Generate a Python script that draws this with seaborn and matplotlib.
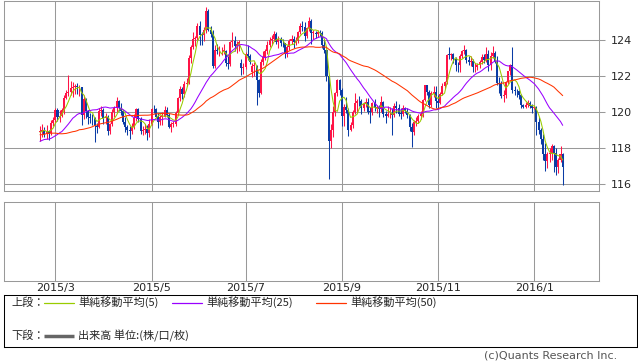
import numpy as np
import pandas as pd
import matplotlib
matplotlib.use('Agg')
import matplotlib.pyplot as plt
import seaborn as sns

# closes before the visible window (only used to start the moving averages)
warmup_closes = [118.8, 117.7, 116.9, 118.5, 118.7, 119.5, 120.0, 120.7, 120.5, 120.3,
                 120.4, 120.4, 119.6, 119.8, 119.7, 120.5, 119.6, 118.6, 119.3, 119.8,
                 118.5, 118.4, 117.9, 117.3, 116.2, 117.5, 117.6, 118.7, 118.5, 118.5,
                 117.7, 118.3, 117.9, 117.5, 118.4, 117.5, 117.4, 117.6, 117.2, 117.5,
                 119.1, 118.6, 119.9, 120.4, 119.0, 118.7, 118.5, 119.3, 118.9]

opens = [118.90, 118.95, 119.00, 118.80, 118.92, 118.83, 119.40,
         119.56, 120.13, 119.74, 119.80, 120.13, 120.80, 121.08, 121.13, 121.33, 121.39,
         121.44, 121.37, 121.38, 119.82, 120.75, 120.03, 119.72, 119.68, 119.65, 119.20,
         119.14, 120.08, 120.13, 119.68, 119.72, 118.95, 119.33, 120.00, 120.20, 120.63,
         120.20, 120.04, 119.47, 119.17, 118.98, 118.93, 119.14, 119.65, 120.17, 119.60,
         118.94, 118.99, 119.05, 118.85, 119.35, 120.18, 120.15, 119.74, 119.47, 119.75,
         119.75, 120.11, 119.82, 119.18, 119.33, 119.35, 119.96, 120.76, 121.30, 120.99,
         121.54, 121.60, 123.01, 123.62, 124.08, 124.12, 124.79, 124.28, 124.27, 124.56,
         125.59, 124.58, 124.36, 122.58, 123.43, 123.37, 123.37, 123.39, 123.40, 122.75,
         122.64, 123.89, 123.92, 123.65, 123.77, 122.70, 122.47, 122.50, 123.22, 123.12,
         122.20, 122.55, 122.55, 121.80, 121.07, 122.77, 123.08, 123.37, 123.75, 124.00,
         124.06, 124.33, 123.90, 124.08, 123.86, 123.82, 123.25, 123.61, 123.94, 124.08,
         123.91, 123.95, 124.42, 124.77, 124.73, 124.24, 124.64, 125.05, 124.39, 124.39,
         124.32, 124.43, 124.39, 123.75, 123.42, 122.01, 118.41, 119.02, 119.99, 121.03,
         121.76, 121.23, 119.79, 120.30, 120.10, 119.02, 119.29, 119.99, 120.51, 120.60,
         120.59, 120.22, 120.43, 120.55, 120.00, 119.99, 120.48, 120.25, 120.28, 120.16,
         120.57, 119.91, 119.80, 119.87, 119.91, 119.86, 120.36, 120.24, 119.90, 119.88,
         120.22, 120.07, 119.85, 119.16, 118.91, 119.46, 119.48, 119.78, 119.87, 120.69,
         121.48, 121.10, 120.38, 121.07, 121.13, 120.63, 120.50, 121.02, 121.44, 121.65,
         123.18, 123.17, 123.20, 122.93, 122.60, 122.59, 123.13, 123.40, 123.45, 122.88,
         122.79, 122.86, 122.48, 122.50, 122.59, 122.80, 123.08, 122.89, 123.20, 122.61,
         123.11, 123.30, 122.80, 121.60, 121.58, 120.88, 120.94, 121.68, 122.26, 122.59,
         121.21, 121.16, 121.14, 120.93, 120.38, 120.28, 120.40, 120.52, 120.34, 120.21,
         120.26, 119.42, 119.02, 118.52, 117.69, 117.28, 117.67, 117.73, 118.09, 117.74,
         116.96, 117.33, 117.67]

highs = [119.25, 119.35, 119.15, 119.30, 119.00, 119.55, 119.75,
         120.25, 120.20, 120.10, 120.25, 120.95, 121.25, 122.05, 121.75, 121.65, 121.55,
         121.60, 121.50, 121.40, 120.95, 120.80, 120.10, 119.95, 119.90, 119.75, 119.40,
         120.20, 120.35, 120.20, 119.95, 119.85, 119.40, 120.15, 120.35, 120.85, 120.65,
         120.50, 120.10, 119.70, 119.30, 119.20, 119.40, 119.90, 120.25, 120.20, 119.75,
         119.20, 119.35, 119.30, 119.60, 120.25, 120.40, 120.25, 119.95, 119.85, 120.00,
         120.35, 120.30, 119.95, 119.45, 119.50, 120.05, 120.85, 121.45, 121.40, 121.70,
         121.90, 123.15, 123.75, 124.45, 124.25, 124.95, 125.05, 124.45, 124.75, 125.86,
         125.70, 124.80, 124.55, 123.75, 123.80, 123.65, 123.60, 123.80, 123.45, 123.10,
         123.95, 124.45, 124.20, 123.95, 124.00, 122.95, 122.75, 123.35, 123.70, 123.20,
         122.75, 122.80, 122.60, 121.85, 122.95, 123.40, 123.50, 123.95, 124.15, 124.30,
         124.48, 124.45, 124.20, 124.15, 124.05, 123.85, 123.70, 124.05, 124.30, 124.25,
         124.15, 124.50, 124.95, 125.05, 125.00, 124.75, 125.28, 125.15, 124.55, 124.50,
         124.55, 124.55, 124.50, 124.05, 123.45, 122.05, 119.35, 120.35, 121.10, 121.85,
         121.85, 121.35, 120.45, 120.85, 120.20, 119.45, 120.10, 121.05, 120.75, 120.90,
         120.70, 120.55, 120.80, 120.80, 120.30, 120.55, 120.75, 120.40, 120.40, 120.90,
         120.60, 120.05, 120.35, 120.30, 120.25, 120.50, 120.60, 120.45, 120.25, 120.40,
         120.30, 120.20, 119.90, 119.40, 119.55, 119.70, 119.90, 120.05, 120.75, 121.50,
         121.50, 121.20, 121.15, 121.45, 121.45, 120.95, 121.10, 121.60, 121.75, 123.25,
         123.60, 123.30, 123.30, 123.05, 122.80, 123.25, 123.45, 123.75, 123.50, 123.10,
         123.10, 122.95, 122.70, 122.75, 122.90, 123.20, 123.20, 123.60, 123.45, 123.35,
         123.65, 123.40, 123.10, 121.95, 121.75, 121.25, 121.75, 122.30, 122.65, 123.60,
         121.45, 121.30, 121.20, 121.00, 120.45, 120.55, 120.65, 120.60, 120.45, 120.35,
         120.35, 119.70, 119.10, 118.80, 118.30, 117.80, 118.00, 118.25, 118.15, 118.00,
         117.45, 118.10, 117.70]

lows = [118.40, 118.60, 118.60, 118.50, 118.45, 118.70, 119.20,
        119.40, 119.50, 119.45, 119.70, 119.90, 120.70, 120.90, 120.95, 120.85, 121.00,
        121.00, 120.90, 119.30, 119.60, 119.65, 119.35, 119.40, 119.30, 118.33, 118.85,
        119.10, 119.80, 119.35, 119.35, 118.72, 118.80, 119.20, 119.75, 120.00, 120.05,
        119.85, 119.35, 118.90, 118.70, 118.50, 118.80, 119.05, 119.50, 119.45, 118.80,
        118.70, 118.80, 118.45, 118.60, 119.30, 119.95, 119.65, 119.10, 119.30, 119.30,
        119.70, 119.70, 119.10, 118.90, 119.15, 119.25, 119.90, 120.60, 120.70, 120.85,
        121.45, 121.55, 122.75, 123.50, 123.65, 124.00, 123.75, 123.70, 123.95, 124.40,
        124.50, 124.15, 122.46, 122.45, 123.20, 123.10, 123.15, 123.20, 122.55, 122.40,
        122.55, 123.60, 123.40, 123.30, 123.40, 122.05, 122.10, 122.40, 122.90, 122.65,
        121.95, 122.00, 120.41, 120.85, 121.00, 122.60, 122.90, 123.20, 123.60, 123.75,
        123.95, 123.80, 123.55, 123.65, 123.60, 123.00, 123.05, 123.45, 123.80, 123.55,
        123.75, 123.85, 124.35, 124.50, 123.95, 124.10, 124.50, 123.80, 124.05, 124.10,
        124.15, 124.20, 123.55, 123.30, 121.70, 116.30, 118.00, 118.60, 119.80, 120.90,
        120.95, 119.25, 119.20, 119.95, 118.65, 118.95, 119.10, 119.90, 119.95, 120.35,
        119.90, 120.05, 120.30, 119.90, 119.40, 119.85, 120.05, 119.95, 119.70, 120.00,
        119.75, 119.40, 119.70, 119.65, 118.70, 119.75, 119.95, 119.80, 119.60, 119.80,
        119.95, 119.65, 118.95, 118.07, 118.75, 119.25, 119.40, 119.60, 119.75, 120.60,
        120.95, 120.20, 120.30, 120.85, 120.25, 120.25, 120.45, 120.95, 121.30, 121.55,
        122.95, 122.90, 122.70, 122.30, 122.20, 122.25, 123.00, 123.20, 122.70, 122.60,
        122.55, 122.25, 122.25, 122.35, 122.45, 122.65, 122.75, 122.80, 122.30, 122.35,
        123.00, 122.70, 121.50, 121.05, 120.80, 120.55, 120.80, 121.55, 122.05, 121.05,
        120.95, 120.85, 120.75, 120.25, 120.20, 120.20, 120.30, 120.20, 119.95, 120.15,
        118.70, 118.80, 118.25, 117.32, 116.70, 116.90, 117.20, 117.35, 116.65, 116.50,
        116.60, 117.20, 115.97]

closes = [118.95, 119.00, 118.80, 118.92, 118.83, 119.40, 119.56,
          120.13, 119.74, 119.80, 120.13, 120.80, 121.08, 121.13, 121.33, 121.39, 121.44,
          121.37, 121.38, 119.82, 120.75, 120.03, 119.72, 119.68, 119.65, 119.20, 119.14,
          120.08, 120.13, 119.68, 119.72, 118.95, 119.33, 120.00, 120.20, 120.63, 120.20,
          120.04, 119.47, 119.17, 118.98, 118.93, 119.14, 119.65, 120.17, 119.60, 118.94,
          118.99, 119.05, 118.85, 119.35, 120.18, 120.15, 119.74, 119.47, 119.75, 119.75,
          120.11, 119.82, 119.18, 119.33, 119.35, 119.96, 120.76, 121.30, 120.99, 121.54,
          121.60, 123.01, 123.62, 124.08, 124.12, 124.79, 124.28, 124.27, 124.56, 125.59,
          124.58, 124.36, 122.58, 123.43, 123.37, 123.37, 123.39, 123.40, 122.75, 122.64,
          123.89, 123.92, 123.65, 123.77, 123.88, 122.47, 122.50, 123.22, 123.12, 122.79,
          122.55, 122.55, 121.80, 121.07, 122.77, 123.08, 123.37, 123.75, 124.00, 124.06,
          124.33, 123.90, 124.08, 123.86, 123.82, 123.25, 123.61, 123.94, 124.08, 123.91,
          123.95, 124.42, 124.77, 124.73, 124.24, 124.64, 125.05, 124.39, 124.39, 124.32,
          124.43, 124.39, 123.75, 123.42, 122.01, 118.41, 119.02, 119.99, 121.03, 121.76,
          121.23, 119.79, 120.30, 120.10, 119.02, 119.29, 119.99, 120.51, 120.60, 120.59,
          120.22, 120.43, 120.55, 120.00, 119.99, 120.48, 120.25, 120.28, 120.16, 120.57,
          119.91, 119.80, 119.87, 119.91, 119.86, 120.36, 120.24, 119.90, 119.88, 120.22,
          120.07, 119.85, 119.16, 118.91, 119.46, 119.48, 119.78, 119.87, 120.69, 121.48,
          121.10, 120.38, 121.07, 121.13, 120.63, 120.50, 121.02, 121.44, 121.65, 123.18,
          123.17, 123.20, 122.93, 122.60, 122.59, 123.13, 123.40, 123.45, 122.88, 122.79,
          122.86, 122.48, 122.50, 122.59, 122.80, 123.08, 122.89, 123.20, 122.61, 123.11,
          123.30, 122.80, 121.60, 121.58, 120.88, 120.94, 121.68, 122.26, 122.59, 121.21,
          121.16, 121.14, 120.93, 120.38, 120.28, 120.40, 120.52, 120.34, 120.21, 120.26,
          119.42, 119.02, 118.52, 117.69, 117.28, 117.67, 117.73, 118.09, 117.74, 116.96,
          117.33, 117.67, 116.95]

price_ticks = [116, 118, 120, 122, 124]
month_labels = ['2015/3', '2015/5', '2015/7', '2015/9', '2015/11', '2016/1']
ma_windows = [5, 25, 50]
ma_colors = ['#99cc00', '#9900ff', '#ff3300']
ma_names = ['単純移動平均(5)', '単純移動平均(25)', '単純移動平均(50)']

UP = '#ff1446'
DOWN = '#0a3ca5'
GRID = '#999999'

W, H = 638, 362


def main():
    dates = pd.bdate_range('2015-02-19', '2016-01-20')
    df = pd.DataFrame({'date': dates, 'open': opens, 'high': highs,
                       'low': lows, 'close': closes})
    df['i'] = np.arange(len(df))

    all_close = pd.Series(warmup_closes + closes)
    n0 = len(warmup_closes)
    for w in ma_windows:
        df['ma%d' % w] = all_close.rolling(w).mean().iloc[n0:].to_numpy()

    # first trading day of every 2nd month
    first = df.groupby([df.date.dt.year, df.date.dt.month]).i.min()
    tick_pos = [first[(2015, 3)], first[(2015, 5)], first[(2015, 7)],
                first[(2015, 9)], first[(2015, 11)], first[(2016, 1)]]

    sns.set_style('white')
    plt.rcParams['font.family'] = ['DejaVu Sans', 'Noto Sans CJK JP']

    fig = plt.figure(figsize=(W / 100, H / 100), dpi=100)

    def px_axes(x0, y0, x1, y1):
        return fig.add_axes([x0 / W, 1 - y1 / H, (x1 - x0) / W, (y1 - y0) / H])

    ax = px_axes(3.5, 0.5, 598.5, 190.5)
    ax2 = px_axes(3.5, 201.5, 598.5, 280.5)
    axl = px_axes(3.5, 294.5, 636.5, 346.5)

    # px scale: 2.187 px per bar, bar 0 at x=40 ; 18 px per yen, 124 at y=40
    xl = ((3.5 - 40) / 2.187, (598.5 - 40) / 2.187)
    for a in (ax, ax2):
        a.set_xlim(*xl)
        a.set_xticks(tick_pos)
        a.grid(axis='x', color=GRID, lw=0.75)
        for s in a.spines.values():
            s.set_color(GRID)
            s.set_linewidth(0.75)
    ax.set_ylim(124 - (190.5 - 40) / 18, 124 + (40 - 0.5) / 18)

    # candles
    up = df.close >= df.open
    for mask, col in ((up, UP), (~up, DOWN)):
        d = df[mask]
        ax.vlines(d.i, d.low, d.high, color=col, lw=0.75, zorder=3)
        body = (d.close - d.open).abs().clip(lower=0.04)
        ax.bar(d.i, body, bottom=np.minimum(d.open, d.close), width=0.92,
               color=col, linewidth=0, zorder=3)

    for w, c in zip(ma_windows, ma_colors):
        sns.lineplot(data=df, x='i', y='ma%d' % w, color=c, lw=0.75, ax=ax, zorder=4)

    ax.set_xlabel('')
    ax.set_ylabel('')
    ax.yaxis.tick_right()
    ax.set_yticks(price_ticks)
    ax.grid(axis='y', color=GRID, lw=0.75)
    ax.tick_params(axis='y', length=4, width=0.75, color=GRID, labelsize=8, pad=5)
    ax.tick_params(axis='x', length=0, labelbottom=False)

    ax2.set_yticks([])
    ax2.set_xticklabels(month_labels)
    ax2.tick_params(axis='x', length=0, labelsize=8, pad=1.5)

    # legend box
    axl.set_xlim(0, 633)
    axl.set_ylim(52, 0)
    axl.set_xticks([])
    axl.set_yticks([])
    for s in axl.spines.values():
        s.set_color('black')
        s.set_linewidth(0.75)
    cjk = ['Noto Sans CJK JP', 'DejaVu Sans']
    ly = 8
    axl.text(8, ly, '上段：', family=cjk, fontsize=8, va='center')
    for x0, c, name in zip([40, 168, 312], ma_colors, ma_names):
        axl.plot([x0, x0 + 30], [ly, ly], color=c, lw=0.9)
        axl.text(x0 + 35, ly, name, family=cjk, fontsize=8, va='center')
    ly2 = 41
    axl.text(8, ly2, '下段：', family=cjk, fontsize=8, va='center')
    axl.plot([40, 70], [ly2, ly2], color='#666666', lw=2.5, solid_capstyle='butt')
    axl.text(75, ly2, '出来高 単位:(株/口/枚)', family=cjk, fontsize=8, va='center')

    fig.text(617 / W, 1 - 355 / H, '(c)Quants Research Inc.', ha='right',
             va='center', fontsize=8, color='#555555')

    fig.savefig('out.png', dpi=100)


if __name__ == '__main__':
    main()
